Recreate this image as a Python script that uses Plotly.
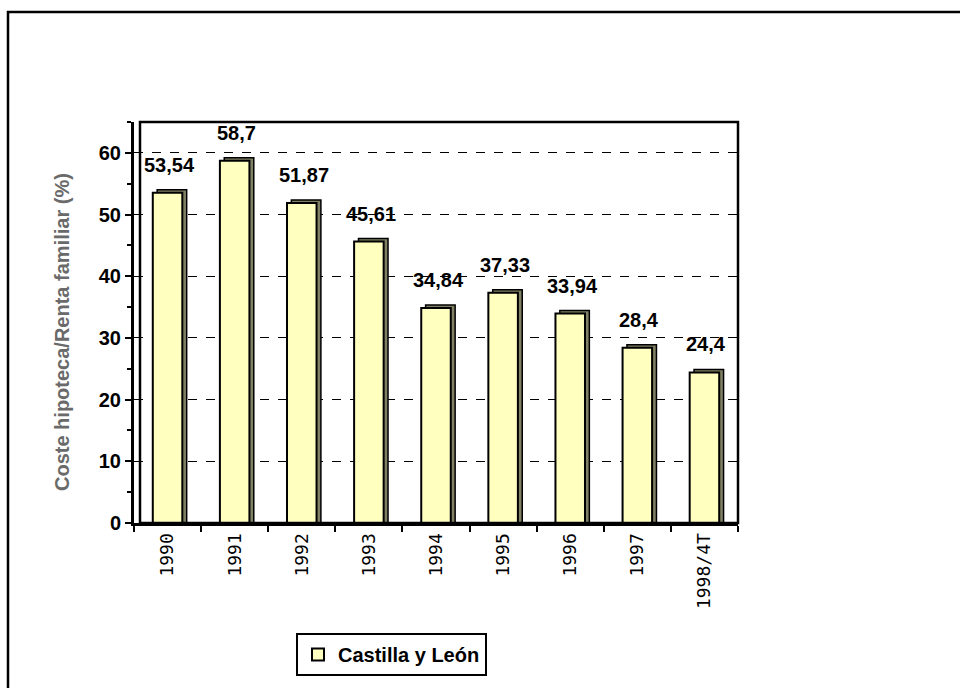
import plotly.graph_objects as go

# Mortgage cost as a share of household income, Castilla y León
categories = ["1990", "1991", "1992", "1993", "1994", "1995", "1996", "1997", "1998/4T"]
values = [53.54, 58.7, 51.87, 45.61, 34.84, 37.33, 33.94, 28.4, 24.4]
series_name = "Castilla y León"
y_title = "Coste hipoteca/Renta familiar (%)"
y_ticks = [0, 10, 20, 30, 40, 50, 60]

labels = [f"{v:g}".replace(".", ",") for v in values]

W, H = 960, 688
L, R, T, B = 134, 738, 122, 523          # plot area in pixels
px_per_unit = (B - T) / 65.0
depth_units = 3.0 / px_per_unit           # vertical extent of the 3D side

face_color = "#FFFFC0"
side_color = "#808064"
bar_w = 0.44
bold_font = "Arial, Liberation Sans, sans-serif"

fig = go.Figure()

# side / depth face behind each bar
fig.add_trace(go.Bar(
    x=categories,
    y=[v + depth_units for v in values],
    width=bar_w,
    offset=-bar_w / 2 + 0.065,
    marker=dict(color=side_color, line=dict(color="black", width=1.5)),
    showlegend=False,
    hoverinfo="skip",
))

# front face
fig.add_trace(go.Bar(
    x=categories,
    y=values,
    width=bar_w,
    offset=-bar_w / 2,
    name=series_name,
    marker=dict(color=face_color, line=dict(color="black", width=2)),
    showlegend=True,
))

# value labels above each bar (x given as category index)
for i, (v, t) in enumerate(zip(values, labels)):
    fig.add_annotation(
        x=i, y=v, text=t, showarrow=False,
        xref="x", yref="y", xanchor="center", yanchor="bottom", yshift=15, xshift=2,
        font=dict(family=bold_font, size=20, color="black", weight="bold"),
    )

# y-axis title
fig.add_annotation(
    x=(62 - L) / (R - L), y=(B - 332) / (B - T), xref="paper", yref="paper",
    xanchor="center", yanchor="middle",
    text=y_title, textangle=-90, showarrow=False,
    font=dict(family=bold_font, size=20, color="#6a6a6a", weight="bold"),
)

# back wall of the chart
fig.add_shape(
    type="rect", xref="paper", yref="paper",
    x0=6 / (R - L), x1=1, y0=0, y1=1,
    line=dict(color="black", width=2.5), fillcolor="rgba(0,0,0,0)", layer="above",
)

# outer frame
fig.add_shape(
    type="rect", xref="paper", yref="paper",
    x0=(8 - L) / (R - L), x1=(W + 20 - L) / (R - L),
    y0=(B - H - 20) / (B - T), y1=(B - 12) / (B - T),
    line=dict(color="black", width=2.5), fillcolor="rgba(0,0,0,0)",
)

fig.update_layout(
    width=W, height=H,
    margin=dict(l=L, r=W - R, t=T, b=H - B, pad=0),
    paper_bgcolor="white", plot_bgcolor="white",
    barmode="overlay",
    font=dict(family=bold_font, color="black"),
    legend=dict(
        x=(296 - L) / (R - L), y=(B - 633) / (B - T),
        xanchor="left", yanchor="top",
        bordercolor="black", borderwidth=2, bgcolor="white",
        font=dict(family=bold_font, size=20, color="black", weight="bold"),
        itemwidth=30,
    ),
)

fig.update_xaxes(
    type="category",
    range=[-0.5, len(categories) - 0.5],
    showline=True, linecolor="black", linewidth=3,
    ticks="outside", tickson="boundaries", ticklen=6, tickwidth=2, tickcolor="black",
    tickangle=-90,
    tickfont=dict(family="DejaVu Sans Mono, monospace", size=18, color="black"),
    showgrid=False, zeroline=False,
)

fig.update_yaxes(
    range=[0, 65],
    tickvals=y_ticks,
    showline=True, linecolor="black", linewidth=3,
    ticks="outside", ticklen=6, tickwidth=2, tickcolor="black",
    minor=dict(dtick=5, ticks="outside", ticklen=4, tickwidth=2, tickcolor="black", showgrid=False),
    tickfont=dict(family=bold_font, size=20, color="black", weight="bold"),
    showgrid=True, gridcolor="black", gridwidth=1, griddash="dash",
    zeroline=False,
)

fig.write_html("out.html")
